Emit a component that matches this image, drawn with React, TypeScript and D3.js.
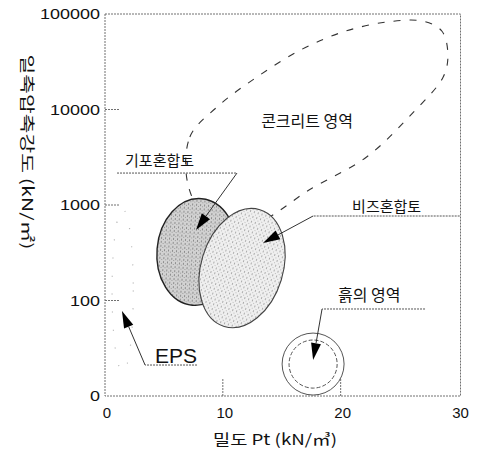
import React from "react";
import * as d3 from "d3";

const W = 479;
const H = 466;

// axes
const densityTicks = [0, 10, 20, 30];
const strengthTicks = [10, 100, 1000, 10000, 100000];
const strengthTickLabels = ["0", "100", "1000", "10000", "100000"];

// concrete region boundary [density, strength]
const concreteRegion: [number, number][] = [
  [7.05, 1620], [7.2, 5150], [9.5, 10600], [12.9, 21900], [16.6, 42000],
  [20.2, 64900], [23.9, 82400], [27.0, 84000], [28.6, 66000], [29.1, 37200],
  [28.7, 21900], [26.1, 9180], [22.2, 3180], [17.6, 1510], [12.3, 620], [8.5, 790],
];

// ellipses: density extent, strength extent, rotation
const foamSoil = { x0: 4.41, x1: 11.21, y0: 88.7, y1: 1170, rot: 5 };
const beadSoil = { x0: 8.15, x1: 15.11, y0: 50.2, y1: 953, rot: 17 };
const epsRegion = { x0: 0.6, x1: 2.4, y0: 18, y1: 900, rot: 0 };

// soil region circle
const soilCenter: [number, number] = [17.66, 21.6];
const soilOuterR = 2.63;
const soilInnerR = 2.04;

// annotations
const annotations = [
  { label: "기포혼합토", size: 15, text: [1.7, 2560], a: [1.02, 2160], knee: [11.2, 2160], tip: [7.72, 547] },
  { label: "비즈혼합토", size: 15, text: [20.97, 845], a: [30.1, 767], knee: [17.66, 767], tip: [13.41, 400] },
  { label: "흙의 영역", size: 16, text: [19.78, 98.9], a: [27.16, 81.5], knee: [18.42, 81.5], tip: [17.66, 23.8] },
  { label: "EPS", size: 21, text: [4.24, 22.2], a: [7.81, 21.1], knee: [3.4, 21.1], tip: [1.44, 77.6] },
];
const concreteLabel = { label: "콘크리트 영역", at: [17.15, 6560] };

const x = d3.scaleLinear().domain([0, 30]).range([105, 458.5]);
const y = d3.scaleLog().domain([10, 100000]).range([396, 14]);

const KR = "'Noto Sans CJK KR', sans-serif";
const SANS = "'Liberation Sans', Arial, sans-serif";

function ell(e: { x0: number; x1: number; y0: number; y1: number; rot: number }) {
  const cx = (x(e.x0) + x(e.x1)) / 2;
  const rx = (x(e.x1) - x(e.x0)) / 2;
  const cy = (y(e.y0) + y(e.y1)) / 2;
  const ry = (y(e.y0) - y(e.y1)) / 2;
  return { cx, cy, rx, ry, transform: `rotate(${e.rot},${cx},${cy})` };
}

function arrowHead(tip: number[], from: number[], len = 17, w = 5) {
  const dx = tip[0] - from[0];
  const dy = tip[1] - from[1];
  const L = Math.hypot(dx, dy);
  const ux = dx / L, uy = dy / L;
  const bx = tip[0] - ux * len, by = tip[1] - uy * len;
  const nx = -uy, ny = ux;
  return {
    base: [bx, by],
    points: `${tip[0]},${tip[1]} ${bx + nx * w},${by + ny * w} ${bx - nx * w},${by - ny * w}`,
  };
}

export default function App() {
  const concretePath = d3
    .line<[number, number]>()
    .x((d) => x(d[0]))
    .y((d) => y(d[1]))
    .curve(d3.curveCatmullRomClosed.alpha(0.5))(concreteRegion) as string;

  const e1 = ell(foamSoil);
  const e2 = ell(beadSoil);
  const ee = ell(epsRegion);
  const sx = x(soilCenter[0]);
  const sy = y(soilCenter[1]);
  const rOut = x(soilOuterR) - x(0);
  const rIn = x(soilInnerR) - x(0);

  const frameStyle = { stroke: "#707070", strokeWidth: 1, strokeDasharray: "2,1", fill: "none" };

  return (
    <svg width={W} height={H} style={{ position: "absolute", left: 0, top: 0, background: "#fff" }}>
      <defs>
        <pattern id="darkDots" width="4" height="4" patternUnits="userSpaceOnUse">
          <rect width="4" height="4" fill="#d2d2d2" />
          <rect x="0" y="0" width="1" height="2" fill="#8c8c8c" />
          <rect x="2" y="2" width="1" height="1" fill="#9a9a9a" />
        </pattern>
        <pattern id="lightDots" width="4" height="5" patternUnits="userSpaceOnUse">
          <rect width="4" height="5" fill="#efefef" />
          <rect x="1" y="0" width="1" height="2" fill="#ababab" />
          <rect x="3" y="3" width="1" height="1" fill="#bcbcbc" />
        </pattern>
      </defs>

      {/* frame */}
      <rect x={x(0)} y={y(100000)} width={x(30) + 2 - x(0)} height={y(10) - y(100000)} style={frameStyle} />
      {strengthTicks.slice(1, 4).map((t) => (
        <line key={t} x1={x(0)} x2={x(0) + 15} y1={y(t)} y2={y(t)} style={frameStyle} />
      ))}
      {densityTicks.slice(1, 3).map((t) => (
        <line key={t} x1={x(t)} x2={x(t)} y1={y(10)} y2={y(10) - 17} style={frameStyle} />
      ))}

      {/* tick labels */}
      {strengthTicks.map((t, i) => (
        <text
          key={t}
          x={100}
          y={y(t) + 5}
          textAnchor="end"
          fontFamily={SANS}
          fontSize={14}
          textLength={strengthTickLabels[i].length * 10}
          lengthAdjust="spacingAndGlyphs"
          fill="#111"
        >
          {strengthTickLabels[i]}
        </text>
      ))}
      {densityTicks.map((t) => (
        <text key={t} x={x(t) + 2} y={418} textAnchor="middle" fontFamily={SANS} fontSize={15} fill="#111">
          {t}
        </text>
      ))}

      {/* axis titles */}
      <text
        x={275}
        y={445}
        textAnchor="middle"
        fontFamily={KR}
        fontSize={15}
        textLength={124}
        lengthAdjust="spacingAndGlyphs"
        fill="#111"
      >
        밀도 Pt (kN/㎥)
      </text>
      <text
        transform="translate(22,152) rotate(90)"
        textAnchor="middle"
        fontFamily={KR}
        fontSize={15}
        textLength={195}
        lengthAdjust="spacingAndGlyphs"
        fill="#111"
      >
        일축압축강도 (kN/㎡)
      </text>

      {/* EPS faint region */}
      <ellipse {...ee} fill="none" stroke="#b0b0b0" strokeWidth={1.2} strokeDasharray="1,17" />

      {/* concrete region */}
      <path d={concretePath} fill="none" stroke="#333" strokeWidth={1.1} strokeDasharray="7,9" />
      <text
        x={x(concreteLabel.at[0])}
        y={y(concreteLabel.at[1])}
        textAnchor="middle"
        fontFamily={KR}
        fontSize={16}
        fill="#111"
      >
        {concreteLabel.label}
      </text>

      {/* foam / bead ellipses */}
      <ellipse {...e1} fill="url(#darkDots)" stroke="#222" strokeWidth={1.4} />
      <ellipse {...e2} fill="url(#lightDots)" stroke="#444" strokeWidth={1.1} />

      {/* soil region */}
      <circle cx={sx} cy={sy} r={rOut} fill="none" stroke="#555" strokeWidth={1} />
      <circle cx={sx} cy={sy} r={rIn} fill="none" stroke="#555" strokeWidth={1} strokeDasharray="4,2" />

      {/* annotations */}
      {annotations.map((a) => {
        const tip = [x(a.tip[0]), y(a.tip[1])];
        const knee = [x(a.knee[0]), y(a.knee[1])];
        const start = [x(a.a[0]), y(a.a[1])];
        const ah = arrowHead(tip, knee);
        return (
          <g key={a.label}>
            <line x1={start[0]} y1={start[1]} x2={knee[0]} y2={knee[1]} stroke="#555" strokeWidth={1} strokeDasharray="2,1" />
            <line x1={knee[0]} y1={knee[1]} x2={ah.base[0]} y2={ah.base[1]} stroke="#333" strokeWidth={1} />
            <polygon points={ah.points} fill="#000" />
            <text
              x={x(a.text[0])}
              y={y(a.text[1])}
              fontFamily={a.label === "EPS" ? SANS : KR}
              fontSize={a.size}
              fill="#111"
            >
              {a.label}
            </text>
          </g>
        );
      })}
    </svg>
  );
}
